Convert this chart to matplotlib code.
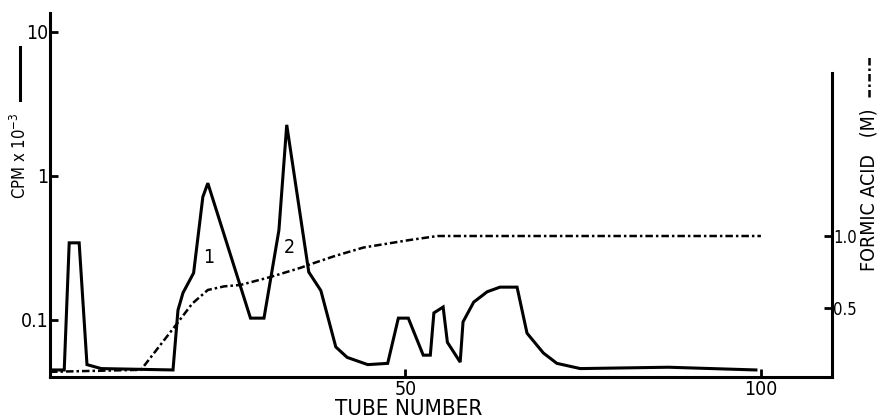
import matplotlib.pyplot as plt
import matplotlib.ticker as mticker
from matplotlib.lines import Line2D

plt.rcParams["font.family"] = ["DejaVu Sans"]
plt.rcParams["font.stretch"] = "condensed"

# CPM x 10^-3 (solid, log scale)
tube_cpm = [0, 2, 2.7, 4.1, 5.2, 7.2, 17.3, 18, 18.7, 20.2, 21.5, 22.2, 28.2, 30.1, 32.2, 33.3,
            36.4, 38.1, 40.2, 41.8, 44.7, 47.5, 49.0, 50.4, 52.5, 53.5, 54.0, 55.3, 55.9, 57.7,
            58.1, 59.6, 61.5, 63.3, 65.7, 67.1, 69.4, 71.3, 74.6, 87.0, 99.3]
cpm = [0.045, 0.045, 0.343, 0.343, 0.049, 0.046, 0.045, 0.117, 0.154, 0.212, 0.715, 0.89, 0.103,
       0.103, 0.42, 2.26, 0.215, 0.16, 0.065, 0.055, 0.049, 0.05, 0.103, 0.103, 0.057, 0.057,
       0.112, 0.123, 0.07, 0.051, 0.097, 0.133, 0.157, 0.169, 0.169, 0.081, 0.059, 0.05, 0.046,
       0.047, 0.045]

# formic acid (M), dash-dot
tube_fa = [0, 12.8, 18, 20, 22.2, 24.5, 26.8, 31, 35.3, 36.4, 40, 44.1, 50.3, 54.5, 60, 100]
formic = [0.056, 0.07, 0.40, 0.53, 0.625, 0.65, 0.66, 0.715, 0.78, 0.80, 0.86, 0.92, 0.97, 1.0,
          1.0, 1.0]

dashdot = (0, (3, 1.2, 1, 1.2))

fig = plt.figure(figsize=(8.79, 4.19), dpi=100)
ax = fig.add_axes([0.0569, 0.1002, 0.8896, 0.8688])
ax.plot(tube_cpm, cpm, color="black", lw=2.2, solid_joinstyle="miter")
ax.set_yscale("log")
ax.set_ylim(0.0402, 13.5)
ax.set_xlim(0, 110)
ax.yaxis.set_major_locator(mticker.FixedLocator([0.1, 1, 10]))
ax.yaxis.set_minor_locator(mticker.NullLocator())
ax.set_yticklabels(["0.1", "1", "10"])
ax.set_xticks([50, 100])
ax.tick_params(axis="both", direction="in", width=2, length=6, labelsize=14, pad=1)
ax.tick_params(axis="x", pad=2)
ax.spines["top"].set_visible(False)
ax.spines["right"].set_visible(False)
for s in ["left", "bottom"]:
    ax.spines[s].set_linewidth(2.2)

ax.text(22.3, 0.27, "1", fontsize=14, ha="center", va="center")
ax.text(33.6, 0.316, "2", fontsize=14, ha="center", va="center")
ax.set_xlabel("TUBE NUMBER", fontsize=16)
ax.xaxis.set_label_coords(50.5 / 110, -0.088)
ax.xaxis.label.set_va("center")

ax2 = ax.twinx()
ax2.plot(tube_fa, formic, color="black", lw=1.8, linestyle=dashdot)
ax2.set_ylim(0.02, 2.55)
ax2.set_yticks([0.5, 1.0])
ax2.set_yticklabels(["0.5", "1.0"])
ax2.tick_params(axis="y", direction="in", width=2, length=6, labelsize=12, pad=1)
ax2.spines["right"].set_bounds(0.02, 2.13)
ax2.spines["right"].set_linewidth(2.2)
for s in ["top", "left", "bottom"]:
    ax2.spines[s].set_visible(False)

# axis titles with their line keys
fig.text(20 / 879, 1 - 156 / 419, "CPM x 10$^{-3}$", rotation=90, fontsize=12,
         ha="center", va="center")
fig.add_artist(Line2D([20 / 879, 20 / 879], [1 - 100 / 419, 1 - 47 / 419],
                      transform=fig.transFigure, color="black", lw=2.2))
fig.text(869 / 879, 1 - 190 / 419, "FORMIC ACID   (M)", rotation=90, fontsize=14,
         ha="center", va="center")
fig.add_artist(Line2D([869 / 879, 869 / 879], [1 - 97 / 419, 1 - 56 / 419],
                      transform=fig.transFigure, color="black", lw=1.8, linestyle=dashdot))

fig.savefig("out.png", dpi=100)
